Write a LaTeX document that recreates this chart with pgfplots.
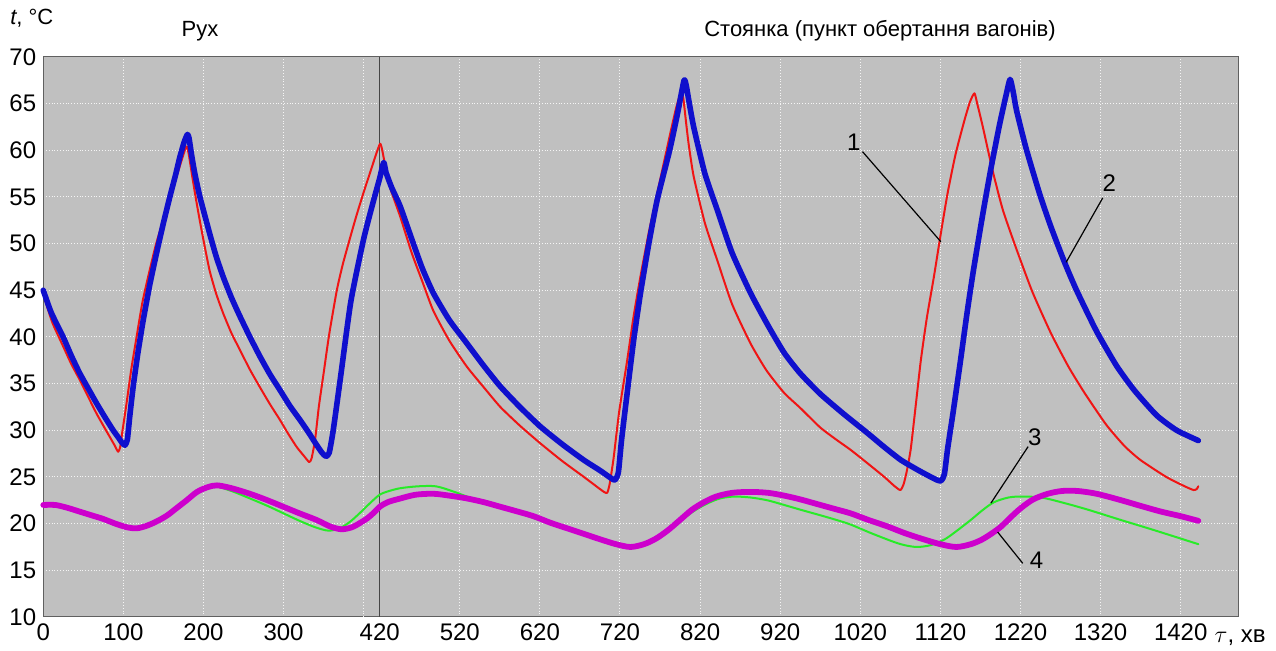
\documentclass[border=0pt]{standalone}
\usepackage{fontspec}
\setmainfont{Liberation Sans}
\usepackage{pgfplots}
\pgfplotsset{compat=1.18}

\definecolor{bgc}{RGB}{192,192,192}
\definecolor{c1}{RGB}{240,20,20}
\definecolor{c2}{RGB}{15,15,205}
\definecolor{c3}{RGB}{40,235,40}
\definecolor{c4}{RGB}{205,0,205}

\begin{document}
\begin{tikzpicture}
\begin{axis}[
  scale only axis, width=597.5pt, height=280pt,
  xmin=0, xmax=1492, ymin=10, ymax=70,
  axis background/.style={fill=bgc},
  xtick={0,100,200,300,420,520,620,720,820,920,1020,1120,1220,1320,1420},
  xticklabels={0,100,200,300,420,520,620,720,820,920,1020,1120,1220,1320,1420},
  extra x ticks={400}, extra x tick labels={},
  extra x tick style={grid=major},
  ytick={10,15,...,70},
  grid=major,
  grid style={draw=white!92!gray, densely dotted, line width=0.5pt},
  major tick length=0pt,
  tick label style={font=\fontsize{12pt}{14.4pt}\selectfont},
  /pgf/number format/assume math mode=true,
  axis line style={draw=gray!75!black, line width=0.5pt},
  clip=false,
  every axis plot/.append style={line join=round, line cap=round},
]
% invisible frame: keeps the page proportions of the reference
\path (axis cs:-54,6.46) rectangle (axis cs:1539,76.1);
\draw[gray!55!black, line width=0.7pt] (axis cs:420,10) -- (axis cs:420,70);

% 1
\addplot[c1, line width=1pt, smooth, tension=0.35] coordinates {
(0,44.6) (5,43.2) (12,41.4) (24.8,39.0) (35,37.1) (45.6,35.4) (56,33.6) (66.5,31.8)
(75,30.5) (83,29.3) (89,28.4) (93.5,27.7) (96,28.2) (99,30.0) (104,32.9) (110,36.6)
(116.5,40.0) (124,43.8) (133,47.2) (141,50.0) (150,52.6) (158,55.0) (166.5,57.2)
(173,59.0) (177.5,60.2) (179.5,60.4) (182,59.4) (186,57.2) (191,54.6) (196,52.2)
(202,49.5) (208,47.0) (216,44.6) (224.8,42.5) (235,40.4) (245.6,38.6) (258,36.5)
(270.6,34.6) (283,32.8) (295.6,31.1) (306,29.6) (316.5,28.2) (325,27.3) (332,26.6)
(335,27.0) (339.4,29.0) (344,32.5) (350,36.1) (357,40.3) (366.5,45.0) (374,47.8)
(383,50.6) (391,53.0) (400,55.5) (408,57.6) (416,59.7) (420.5,60.7) (423,60.1)
(427,58.3) (433,56.0) (445.6,52.9) (460,49.0) (473,46.0) (487,42.8) (507,39.6)
(529,36.8) (550,34.6) (570.6,32.5) (595,30.5) (620.6,28.6) (648,26.7) (675,25.0)
(692,23.9) (700,23.4) (704,23.3) (707,24.2) (712,27.0) (719,32.0) (729,37.5)
(737,42.2) (745.6,46.5) (756,51.2) (766.5,55.4) (782,61.5) (790,64.5) (796,66.2)
(799,65.6) (803,62.6) (806,60.5) (812,57.2) (826,52.2) (841.5,48.2) (860,43.5)
(883,39.3) (903,36.4) (925,34.0) (945,32.4) (970,30.3) (990,29.0) (1008,27.9)
(1030,26.4) (1050,25.0) (1063,24.0) (1070,23.6) (1074,24.2) (1078,25.6) (1083,28.0)
(1089,32.5) (1095.6,37.5) (1103,42.0) (1112,46.5) (1120,50.8) (1129,55.4) (1139,59.6)
(1150,63.2) (1157,65.2) (1162.5,66.1) (1166,65.0) (1173,62.5) (1185,57.9) (1198,53.6)
(1215,49.4) (1235,44.8) (1258,40.4) (1280,36.8) (1300,34.0) (1327,30.6) (1350,28.3)
(1370,26.8) (1402,25.0) (1425,24.0) (1436,23.6) (1440,23.7) (1442,24.0)
};
% 2
\addplot[c2, line width=2.8pt, smooth, tension=0.35] coordinates {
(0,45.0) (10,42.6) (24.8,40.0) (35,38.0) (45.6,36.1) (56,34.5) (66.5,32.9) (77,31.4)
(87.3,30.0) (94,29.2) (98,28.7) (102,28.4) (105,29.0) (108,31.5) (112.3,34.7) (118,38.2)
(124.8,41.8) (133,45.6) (141.5,49.0) (150,52.2) (158,55.0) (165,57.3) (170.6,59.3)
(176,60.9) (180,61.7) (182,61.3) (185,59.6) (189,57.6) (195.6,55.0) (208,51.0)
(216,48.6) (224.8,46.4) (235,44.2) (245.6,42.2) (258,40.0) (270.6,37.9) (283,36.0)
(295.6,34.3) (308,32.6) (320.6,31.1) (331,29.8) (341.5,28.4) (348,27.6) (353,27.2)
(357,27.6) (362,30.0) (371,35.6) (384,43.8) (400,50.5) (412,54.5) (420,57.0) (425,58.7)
(428,57.6) (435,56.0) (445.6,54.0) (460,50.5) (473,47.4) (487,44.7) (507,41.8)
(529,39.3) (550,36.9) (570.6,34.7) (595,32.5) (620.6,30.4) (648,28.5) (675,26.8)
(695,25.7) (710,24.8) (714,24.7) (718,25.5) (722,29.0) (729,34.0) (737,39.6)
(745.6,44.7) (756,50.0) (766.5,54.7) (782,60.0) (792,64.0) (800,67.5) (803,66.8)
(806,65.3) (812,62.5) (826,57.5) (841.5,53.6) (860,49.0) (883,44.7) (905,41.2)
(925,38.3) (945,36.1) (970,33.9) (1000,31.7) (1029,29.7) (1050,28.2) (1071,26.8)
(1095,25.6) (1115,24.7) (1121,24.6) (1125,25.3) (1129,28.0) (1136,32.0) (1145,37.4)
(1153,42.4) (1161,47.0) (1173,53.2) (1183,58.0) (1194,62.8) (1202,65.9) (1207,67.6)
(1211,66.2) (1215,64.3) (1227,60.2) (1244,55.3) (1258,51.8) (1275,48.0) (1290,45.0)
(1315,40.6) (1340,36.9) (1362,34.3) (1390,31.6) (1415,30.0) (1442,28.9)
};
% 3
\addplot[c3, line width=1pt, smooth] coordinates {
(0,22.0) (15,22.0) (30,21.7) (45,21.3) (60,20.9) (75,20.5) (90,20.0) (105,19.6)
(117,19.5) (130,19.8) (143,20.3) (155,20.9) (167,21.7) (179,22.5) (192,23.3) (205,23.8)
(215,24.0) (235,23.5) (258,22.7) (280,21.9) (300,21.1) (320,20.3) (340,19.6) (356,19.25)
(370,19.5) (383,20.2) (396,21.2) (408,22.2) (420,23.1) (432,23.5) (446,23.8) (468,24.0)
(490,24.0) (510,23.5) (529,22.9) (550,22.3) (571,21.7) (592,21.2) (612,20.6) (633,20.0)
(654,19.4) (675,18.8) (696,18.2) (712,17.7) (725,17.5) (740,17.6) (755,18.0) (770,18.7)
(785,19.6) (800,20.6) (815,21.5) (830,22.2) (845,22.7) (862,22.9) (883,22.8) (904,22.5)
(925,22.0) (945,21.5) (970,20.9) (990,20.4) (1008,19.9) (1033,19.0) (1060,18.1)
(1075,17.7) (1091,17.5) (1108,17.7) (1125,18.3) (1140,19.2) (1158,20.4) (1172,21.4)
(1187,22.3) (1205,22.8) (1221,22.9) (1246,22.8) (1275,22.2) (1304,21.5) (1345,20.4)
(1387,19.3) (1442,17.8)
};
% 4
\addplot[c4, line width=2.9pt, smooth] coordinates {
(0,22.0) (15,22.0) (30,21.7) (45,21.3) (60,20.9) (75,20.5) (90,20.0) (105,19.6)
(117,19.5) (130,19.8) (143,20.3) (155,20.9) (167,21.7) (179,22.5) (192,23.4) (205,23.9)
(217,24.1) (235,23.8) (258,23.2) (280,22.5) (300,21.8) (320,21.1) (341,20.4) (358,19.7)
(372,19.4) (385,19.6) (396,20.1) (405,20.6) (413,21.2) (420,21.8) (430,22.3) (446,22.7)
(465,23.1) (487,23.2) (507,23.0) (529,22.7) (550,22.3) (571,21.8) (592,21.3) (612,20.8)
(633,20.1) (654,19.5) (675,18.9) (696,18.3) (715,17.8) (733,17.5) (750,17.8) (765,18.4)
(780,19.3) (795,20.4) (810,21.5) (825,22.3) (840,22.9) (860,23.3) (883,23.4) (905,23.3)
(925,23.0) (945,22.6) (966,22.1) (987,21.6) (1008,21.1) (1030,20.4) (1054,19.7)
(1075,19.0) (1096,18.4) (1120,17.8) (1140,17.5) (1158,17.8) (1172,18.3) (1185,19.0)
(1196,19.7) (1208,20.7) (1221,21.7) (1236,22.6) (1254,23.2) (1272,23.5) (1291,23.5)
(1315,23.2) (1346,22.5) (1370,21.9) (1395,21.3) (1420,20.8) (1442,20.3)
};

% curve numbers
\draw[black, line width=0.6pt] (axis cs:1022.8,59.85) -- (axis cs:1120.6,50.2);
\node[font=\fontsize{12pt}{14.4pt}\selectfont, inner sep=0pt] at (axis cs:1011.9,60.9) {1};
\draw[black, line width=0.6pt] (axis cs:1322.7,54.9) -- (axis cs:1277,48.0);
\node[font=\fontsize{12pt}{14.4pt}\selectfont, inner sep=0pt] at (axis cs:1331,56.5) {2};
\draw[black, line width=0.6pt] (axis cs:1229.5,28.25) -- (axis cs:1183.1,22.2);
\node[font=\fontsize{12pt}{14.4pt}\selectfont, inner sep=0pt] at (axis cs:1237.9,29.3) {3};
\draw[black, line width=0.6pt] (axis cs:1222.8,15.75) -- (axis cs:1191.5,19.1);
\node[font=\fontsize{12pt}{14.4pt}\selectfont, inner sep=0pt] at (axis cs:1240,16.1) {4};

% titles and axis names
\node[anchor=base, inner sep=0pt, font=\fontsize{11pt}{13.2pt}\selectfont] at (axis cs:195.6,72.17) {Рух};
\node[anchor=base, inner sep=0pt, font=\fontsize{11pt}{13.2pt}\selectfont] at (axis cs:1044.6,72.17) {Стоянка (пункт обертання вагонів)};
\node[anchor=base west, inner sep=0pt, font=\fontsize{11pt}{13.2pt}\selectfont] at (axis cs:-41.6,73.43) {\textit{t}, °C};
\node[anchor=base west, inner sep=0pt, font=\fontsize{12pt}{14.4pt}\selectfont] at (axis cs:1462,7.3) {$\tau$, хв};
\end{axis}
\end{tikzpicture}
\end{document}
